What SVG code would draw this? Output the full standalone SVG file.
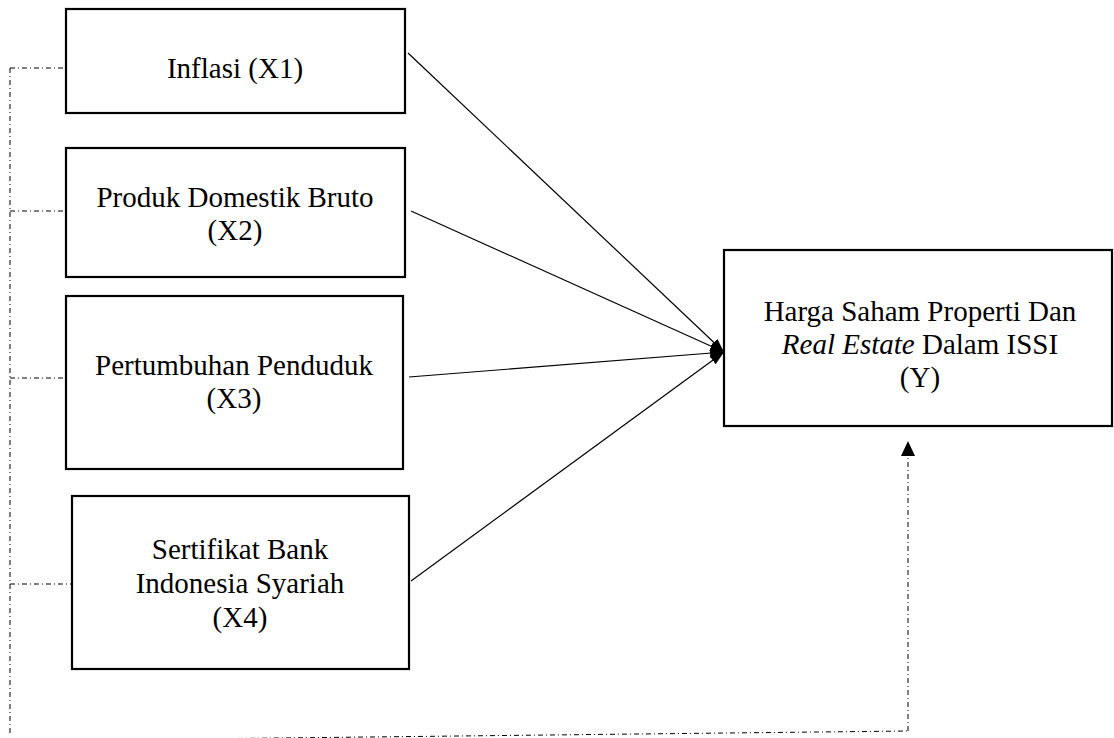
<svg xmlns="http://www.w3.org/2000/svg" width="1114" height="738" viewBox="0 0 1114 738">
<style>
.box{fill:#fff;stroke:#000;stroke-width:2.2}
.t{font-family:"Liberation Serif","Times New Roman",serif;font-size:29px;fill:#000;text-anchor:middle}
.solid{fill:none;stroke:#000;stroke-width:1.2}
.dd{fill:none;stroke:#000;stroke-width:1;stroke-dasharray:5 3 1 3}
</style>
<defs>
<marker id="ah" viewBox="0 0 14 10" refX="14" refY="5" markerWidth="14" markerHeight="10" markerUnits="userSpaceOnUse" orient="auto">
<path d="M0,0 L14,5 L0,10 z" fill="#000"/>
</marker>
</defs>
<rect width="1114" height="738" fill="#fff"/>
<g id="connectors">
<line class="solid" x1="408" y1="53" x2="724" y2="352" marker-end="url(#ah)"/>
<line class="solid" x1="411" y1="211" x2="724" y2="352" marker-end="url(#ah)"/>
<line class="solid" x1="409" y1="377" x2="724" y2="352" marker-end="url(#ah)"/>
<line class="solid" x1="411" y1="581" x2="724" y2="352" marker-end="url(#ah)"/>
<line class="dd" x1="10" y1="68" x2="66" y2="68"/>
<line class="dd" x1="10" y1="211" x2="66" y2="211"/>
<line class="dd" x1="10" y1="378" x2="66" y2="378"/>
<line class="dd" x1="10" y1="584" x2="72" y2="584"/>
<line class="dd" x1="10" y1="68" x2="10" y2="735"/>
<line class="dd" x1="10" y1="741" x2="908" y2="731"/>
<path class="dd" d="M908,731 L908,456"/>
<path d="M908,441 L915,456 L901,456 z" fill="#000"/>
</g>
<g id="x1">
<rect class="box" x="66" y="9" width="339" height="104"/>
<text class="t" x="235" y="78">Inflasi (X1)</text>
</g>
<g id="x2">
<rect class="box" x="66" y="148" width="339" height="129"/>
<text class="t" x="235" y="207">Produk Domestik Bruto</text>
<text class="t" x="235" y="240">(X2)</text>
</g>
<g id="x3">
<rect class="box" x="66" y="296" width="337" height="173"/>
<text class="t" x="234" y="375">Pertumbuhan Penduduk</text>
<text class="t" x="234" y="408">(X3)</text>
</g>
<g id="x4">
<rect class="box" x="72" y="496" width="337" height="173"/>
<text class="t" x="240" y="559">Sertifikat Bank</text>
<text class="t" x="240" y="593">Indonesia Syariah</text>
<text class="t" x="240" y="627">(X4)</text>
</g>
<g id="y">
<rect class="box" x="724" y="250" width="388" height="176"/>
<text class="t" x="920" y="321">Harga Saham Properti Dan</text>
<text class="t" x="920" y="354"><tspan font-style="italic">Real Estate</tspan> Dalam ISSI</text>
<text class="t" x="920" y="387">(Y)</text>
</g>
</svg>
